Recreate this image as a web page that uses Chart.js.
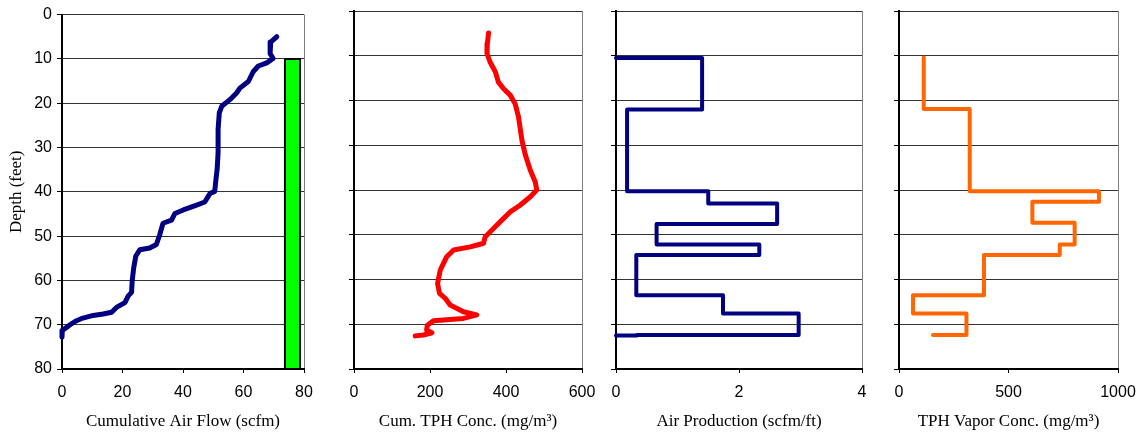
<!doctype html>
<html lang="en">
<head>
  <meta charset="utf-8">
  <title>Perfil de profundidad</title>
  <script src="https://cdn.jsdelivr.net/npm/chart.js"></script>
  <style>
    html, body {
      background-color: #ffffff;
      margin: 0;
      padding: 0;
    }
    #wrap {
      position: relative;
      width: 1148px;
      height: 439px;
    }
    #wrap canvas {
      position: absolute;
      top: 0;
    }
  </style>
</head>
<body>
  <div id="wrap">
    <canvas id="c1" width="330" height="439" style="left:0px"></canvas>
    <canvas id="c2" width="278" height="439" style="left:334px"></canvas>
    <canvas id="c3" width="294" height="439" style="left:596px"></canvas>
    <canvas id="c4" width="268" height="439" style="left:879px"></canvas>
  </div>

  <script>
    // Datos (profundidad en pies)
    const AIR_FLOW_DEPTH = [5.0, 6.2, 8.8, 9.9, 10.9, 11.6, 12.9, 15.1, 16.6, 17.7, 19.2, 20.7, 22.2, 25.9, 31.1, 34.8, 37.8, 39.9, 40.4, 42.3, 43.0, 44.1, 44.9, 46.4, 47.1, 49.7, 51.9, 52.7, 53.1, 54.5, 57.2, 60.1, 62.7, 63.5, 65.0, 66.1, 67.2, 67.6, 67.9, 68.5, 69.1, 69.8, 70.6, 71.3, 72.8];
    const AIR_FLOW = [71.0, 69.0, 68.8, 69.8, 67.7, 64.9, 63.2, 61.6, 58.8, 57.7, 55.5, 52.8, 52.0, 51.6, 51.6, 51.3, 50.8, 50.5, 48.9, 47.2, 44.5, 40.1, 37.3, 36.2, 33.4, 32.3, 31.2, 29.0, 25.7, 24.4, 23.7, 23.2, 23.0, 21.9, 20.8, 18.0, 16.4, 13.6, 10.3, 6.9, 4.8, 3.1, 1.5, 0.1, 0];

    // Tramo ranurado (barra verde)
    const SCREEN_X = [73.7, 78.7];
    const SCREEN_DEPTH = [10, 80];

    const TPH_CUM_DEPTH = [4.9, 7.3, 9.5, 11.4, 13.6, 15.9, 17.3, 18.8, 20.7, 23.7, 28.9, 32.2, 35.6, 38.2, 40.0, 41.5, 43.4, 44.9, 46.4, 48.6, 50.5, 51.9, 52.7, 53.4, 54.9, 57.9, 60.9, 63.1, 64.2, 65.7, 67.2, 67.9, 68.7, 69.2, 70.2, 71.3, 71.9, 72.4, 72.6];
    const TPH_CUM = [354, 351, 350, 358, 372, 380, 393, 411, 424, 433, 442, 451, 464, 477, 481, 464, 437, 411, 393, 367, 345, 341, 306, 262, 244, 227, 220, 225, 240, 253, 288, 323, 288, 209, 193, 191, 205, 183, 161];

    const AIR_PROD_DEPTH = [10.5, 10.5, 22, 40.3, 43, 47.6, 52.2, 54.5, 63.5, 67.6, 72.4, 72.5];
    const AIR_PROD = [0, 1.40, 0.18, 1.50, 2.62, 0.66, 2.33, 0.33, 1.74, 2.97, 0.34, 0];

    const TPH_VAPOR_DEPTH = [10.4, 21.9, 40.3, 42.6, 47.3, 52.2, 54.5, 63.5, 67.6, 72.4];
    const TPH_VAPOR = [113, 323, 913, 609, 802, 734, 388, 64, 308, 155];

    const SANS = "'Liberation Sans', Arial, sans-serif";
    const SERIF = "'Liberation Serif', 'Times New Roman', serif";

    function pts(xs, ys) {
      return xs.map((x, i) => ({ x: x, y: ys[i] }));
    }

    function panel(id, opts) {
      const yAxis = {
        type: "linear",
        reverse: true,
        min: 0,
        max: 80,
        ticks: {
          stepSize: 10,
          display: opts.showY,
          color: "#000",
          padding: 5,
          font: { family: SANS, size: 16 }
        },
        grid: {
          color: ctx => ctx.index === 0 ? "#000" : "#333",
          lineWidth: 1,
          tickLength: 5,
          tickColor: "#000"
        },
        border: { color: "#000", width: 2 },
        title: {
          display: opts.showY,
          text: "Depth (feet)",
          color: "#000",
          padding: { top: 6, bottom: 0 },
          font: { family: SERIF, size: 17 }
        },
        afterFit: s => { s.width = opts.yWidth; }
      };
      const xAxis = {
        type: "linear",
        position: "bottom",
        min: 0,
        max: opts.xMax,
        ticks: {
          stepSize: opts.xStep,
          color: "#000",
          padding: 10,
          font: { family: SANS, size: 16 },
          callback: v => String(v)
        },
        grid: {
          color: ctx => ctx.tick && ctx.tick.value === opts.xMax ? "#808080" : "rgba(0,0,0,0)",
          lineWidth: 1,
          tickLength: 4,
          tickColor: "#000"
        },
        border: { color: "#000", width: 2 },
        title: {
          display: true,
          text: opts.xTitle,
          color: "#000",
          padding: { top: 0, bottom: 7 },
          font: { family: SERIF, size: 17 }
        },
        afterFit: s => { s.height = 70; }
      };

      return new Chart(document.getElementById(id), {
        type: "scatter",
        data: { datasets: opts.datasets },
        options: {
          responsive: false,
          animation: false,
          layout: { padding: { left: 0, top: 11, right: opts.padRight, bottom: 0 } },
          scales: { x: xAxis, y: yAxis },
          plugins: {
            legend: { display: false },
            tooltip: { enabled: false }
          }
        }
      });
    }

    function curve(xs, ys, color, width, stepped) {
      return {
        data: pts(xs, ys),
        showLine: true,
        borderColor: color,
        borderWidth: width,
        pointRadius: 0,
        borderCapStyle: "round",
        borderJoinStyle: "round",
        stepped: stepped || false,
        tension: 0,
        clip: 6
      };
    }

    // Barra verde como poligono cerrado
    const screenBox = {
      data: pts(
        [SCREEN_X[0], SCREEN_X[1], SCREEN_X[1], SCREEN_X[0], SCREEN_X[0]],
        [SCREEN_DEPTH[0], SCREEN_DEPTH[0], SCREEN_DEPTH[1], SCREEN_DEPTH[1], SCREEN_DEPTH[0]]
      ),
      showLine: true,
      fill: "shape",
      backgroundColor: "#00ff00",
      borderColor: "#000",
      borderWidth: 2,
      pointRadius: 0,
      tension: 0
    };

    panel("c1", {
      showY: true, yWidth: 62, padRight: 26, xMax: 80, xStep: 20,
      xTitle: "Cumulative Air Flow (scfm)",
      datasets: [screenBox, curve(AIR_FLOW, AIR_FLOW_DEPTH, "#000080", 5)]
    });

    panel("c2", {
      showY: false, yWidth: 20, padRight: 30, xMax: 600, xStep: 200,
      xTitle: "Cum. TPH Conc. (mg/m\u00b3)",
      datasets: [curve(TPH_CUM, TPH_CUM_DEPTH, "#ff0000", 5)]
    });

    panel("c3", {
      showY: false, yWidth: 20, padRight: 28, xMax: 4, xStep: 2,
      xTitle: "Air Production (scfm/ft)",
      datasets: [curve(AIR_PROD, AIR_PROD_DEPTH, "#000080", 4, "after")]
    });

    panel("c4", {
      showY: false, yWidth: 20, padRight: 29, xMax: 1000, xStep: 500,
      xTitle: "TPH Vapor Conc. (mg/m\u00b3)",
      datasets: [curve(TPH_VAPOR, TPH_VAPOR_DEPTH, "#ff6600", 4, "after")]
    });
  </script>
</body>
</html>
